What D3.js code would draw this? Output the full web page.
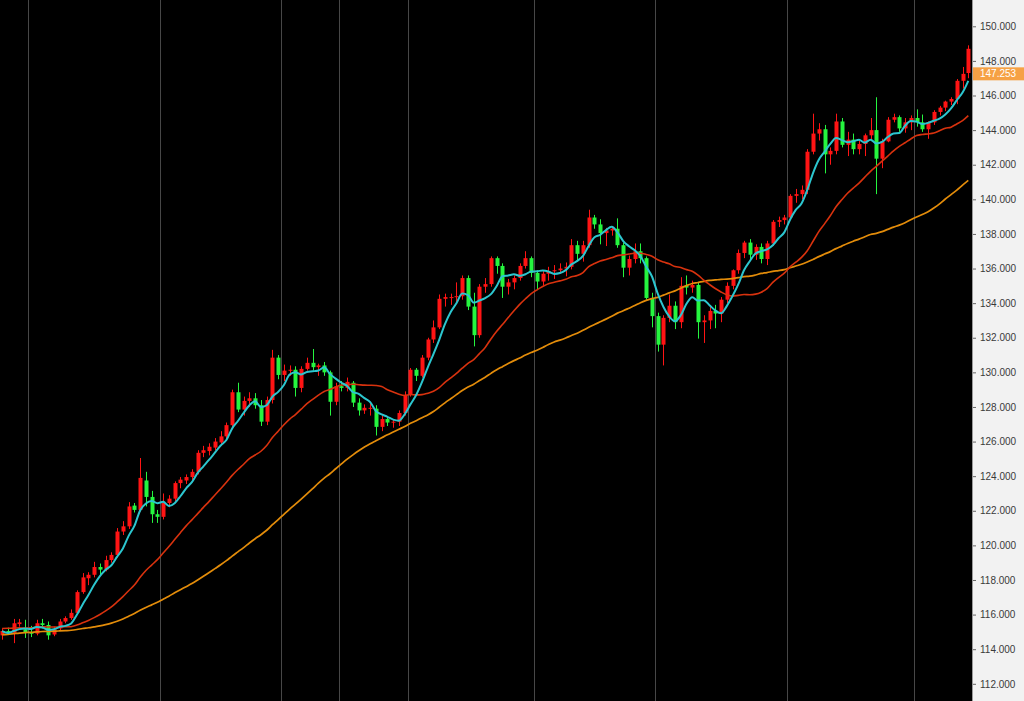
<!DOCTYPE html>
<html lang="en">
	<head>
		<meta charset="utf-8">
		<title>USD/JPY daily</title>
		<script type="text/javascript" src="https://cdn.jsdelivr.net/npm/d3@7/dist/d3.min.js"></script>
		<style type="text/css">
			html, body{
				margin: 0;
				padding: 0;
				overflow: hidden;
				background-color: #ffffff;
			}
			.axis text{
				font-family: "Liberation Sans", Arial, sans-serif;
				font-size: 10px;
				fill: #3a3a3a;
			}
			.axis line{
				stroke: #666666;
			}
		</style>
	</head>
	<body>
		<div id="chart"></div>
		<script type="text/javascript">

			// daily candles, 22 Feb -> 14 Oct (one per weekday)
			var opens = [
				114.80, 115.05, 114.95, 115.45, 115.15, 114.95, 114.90, 115.50, 115.40, 114.85,
				115.20, 115.60, 115.80, 116.10, 117.30, 118.10, 118.30, 118.75, 118.60, 119.15,
				119.45, 120.80, 121.10, 122.30, 122.05, 123.75, 122.80, 121.80, 121.65, 122.45,
				122.70, 123.60, 123.75, 123.95, 124.25, 125.35, 125.45, 125.65, 125.95, 126.30,
				126.95, 128.85, 127.85, 128.35, 128.50, 128.10, 127.15, 128.40, 130.85, 129.85,
				130.10, 130.15, 129.10, 130.20, 130.55, 130.30, 130.40, 130.00, 128.30, 129.20,
				129.10, 129.40, 128.25, 127.80, 127.90, 127.90, 126.85, 127.30, 127.10, 127.15,
				127.65, 128.70, 130.15, 129.80, 130.85, 131.90, 132.60, 134.25, 134.30, 134.35,
				134.40, 135.45, 133.80, 132.15, 134.95, 135.10, 136.60, 136.15, 134.95, 135.20,
				135.45, 136.15, 136.60, 135.75, 135.25, 135.70, 135.85, 135.90, 136.00, 136.10,
				137.35, 136.85, 137.35, 138.95, 138.55, 138.05, 138.20, 138.30, 137.35, 136.05,
				136.55, 137.00, 136.60, 134.30, 133.25, 131.60, 133.15, 133.85, 132.90, 135.00,
				134.90, 135.05, 132.90, 133.00, 133.55, 133.40, 134.20, 135.00, 135.90, 136.90,
				137.50, 136.80, 137.25, 136.55, 137.45, 138.70, 138.80, 138.95, 140.20, 140.30,
				140.55, 142.75, 143.80, 144.05, 142.60, 142.80, 144.50, 143.15, 143.45, 142.90,
				143.20, 143.70, 144.00, 142.35, 143.35, 144.60, 144.75, 144.10, 144.45, 144.70,
				144.45, 144.05, 144.45, 145.05, 145.30, 145.65, 145.80, 146.85, 147.30
			];
			var highs = [
				115.20, 115.25, 115.75, 115.75, 115.70, 115.35, 115.70, 115.75, 115.60, 115.30,
				115.75, 115.90, 116.30, 117.40, 118.40, 118.45, 119.05, 118.95, 119.40, 119.60,
				121.00, 121.40, 122.50, 122.45, 125.05, 124.25, 123.15, 122.05, 123.00, 122.90,
				123.70, 123.95, 124.10, 124.40, 125.50, 125.75, 125.90, 126.20, 126.60, 127.10,
				129.00, 129.40, 128.60, 128.85, 128.80, 128.40, 128.60, 131.30, 131.00, 130.45,
				130.40, 130.35, 130.35, 130.85, 131.35, 130.50, 130.60, 130.10, 129.40, 129.50,
				129.70, 129.50, 128.50, 128.15, 128.20, 128.10, 127.50, 127.45, 127.30, 127.80,
				128.90, 130.25, 130.25, 131.00, 132.00, 133.00, 134.50, 134.55, 134.55, 135.20,
				135.60, 135.60, 134.60, 135.10, 135.45, 136.70, 136.70, 136.30, 135.40, 135.60,
				136.30, 137.00, 136.70, 135.90, 135.85, 136.10, 136.20, 136.30, 136.35, 137.70,
				137.60, 137.60, 139.40, 139.10, 138.85, 138.35, 138.40, 138.90, 137.50, 136.75,
				137.45, 137.45, 136.70, 134.60, 133.45, 133.30, 134.50, 134.10, 135.50, 135.60,
				135.30, 135.20, 133.30, 133.80, 133.90, 134.35, 135.20, 135.95, 137.10, 137.60,
				137.70, 137.40, 137.45, 137.60, 138.80, 139.00, 139.10, 140.30, 140.60, 140.80,
				142.90, 144.95, 144.40, 144.30, 143.00, 144.95, 144.70, 143.90, 143.80, 143.40,
				143.80, 144.70, 145.90, 143.50, 144.75, 144.95, 144.85, 144.70, 144.85, 145.20,
				144.90, 144.50, 145.15, 145.40, 145.70, 145.90, 146.95, 147.65, 148.90
			];
			var lows = [
				114.55, 114.85, 114.35, 115.30, 114.65, 114.70, 114.80, 115.20, 114.55, 114.75,
				115.10, 115.50, 115.70, 116.00, 117.20, 117.70, 118.15, 118.30, 118.50, 119.00,
				119.30, 120.60, 120.95, 121.90, 121.95, 122.25, 121.30, 121.30, 121.50, 122.20,
				122.55, 123.30, 123.55, 123.70, 124.10, 125.10, 125.20, 125.50, 125.80, 126.10,
				126.80, 127.70, 127.50, 128.00, 127.90, 126.90, 126.95, 128.20, 129.60, 129.50,
				129.80, 128.60, 128.85, 130.10, 130.10, 129.80, 129.80, 127.50, 128.10, 128.90,
				128.90, 128.00, 127.50, 127.60, 127.50, 126.35, 126.60, 126.90, 126.80, 126.90,
				127.50, 128.60, 129.50, 129.70, 130.70, 131.70, 132.50, 133.80, 133.90, 134.00,
				134.20, 133.60, 131.50, 132.00, 134.60, 134.95, 135.70, 134.30, 134.50, 134.80,
				135.30, 136.00, 135.50, 134.75, 135.00, 135.30, 135.40, 135.70, 135.55, 135.95,
				136.40, 136.40, 137.20, 138.30, 137.40, 137.30, 137.90, 137.20, 135.50, 135.60,
				136.30, 136.30, 134.20, 132.60, 131.20, 130.40, 132.90, 132.50, 132.55, 134.50,
				134.60, 131.95, 131.70, 132.50, 132.55, 132.90, 134.00, 134.80, 135.70, 136.60,
				136.50, 136.50, 136.30, 136.20, 137.30, 138.40, 138.55, 138.80, 139.80, 140.00,
				140.30, 142.60, 143.40, 141.50, 142.00, 142.60, 143.00, 142.50, 142.60, 142.60,
				142.50, 143.40, 140.30, 141.80, 143.30, 144.45, 143.90, 143.85, 144.00, 144.20,
				143.90, 143.50, 144.30, 144.85, 145.10, 145.45, 145.50, 146.40, 147.00
			];
			var closes = [
				115.05, 114.95, 115.50, 115.55, 114.95, 114.90, 115.50, 115.40, 114.80, 115.15,
				115.60, 115.80, 116.10, 117.30, 118.15, 118.30, 118.75, 118.60, 119.15, 119.45,
				120.80, 121.10, 122.25, 122.05, 123.90, 122.80, 121.80, 121.65, 122.45, 122.70,
				123.60, 123.80, 123.95, 124.25, 125.35, 125.50, 125.70, 126.00, 126.30, 126.95,
				128.85, 127.85, 128.35, 128.50, 128.10, 127.15, 128.40, 130.85, 129.85, 130.10,
				130.15, 129.10, 130.20, 130.55, 130.30, 130.40, 130.00, 128.30, 129.20, 129.10,
				129.45, 128.25, 127.80, 127.95, 127.95, 126.85, 127.30, 127.10, 127.15, 127.65,
				128.70, 130.15, 129.80, 130.85, 131.90, 132.60, 134.25, 134.35, 134.35, 134.40,
				135.45, 133.80, 132.15, 134.95, 135.10, 136.60, 136.15, 134.95, 135.20, 135.45,
				136.15, 136.60, 135.75, 135.25, 135.70, 135.85, 135.90, 136.00, 136.10, 137.35,
				136.85, 137.35, 138.95, 138.55, 138.05, 138.20, 138.30, 137.35, 136.05, 136.55,
				137.00, 136.60, 134.30, 133.25, 131.60, 133.15, 133.85, 132.90, 135.00, 134.90,
				135.05, 132.90, 133.00, 133.55, 133.40, 134.20, 135.00, 135.90, 136.90, 137.50,
				136.80, 137.25, 136.55, 137.45, 138.70, 138.80, 138.95, 140.20, 140.30, 140.55,
				142.75, 143.80, 144.05, 142.60, 142.80, 144.50, 143.15, 143.45, 142.90, 143.20,
				143.70, 144.00, 142.35, 143.35, 144.60, 144.75, 144.10, 144.45, 144.70, 144.45,
				144.05, 144.45, 145.05, 145.30, 145.65, 145.80, 146.85, 147.25, 148.70
			];

			// closes before the first visible candle (only feed the moving averages)
			var earlierCloses = [
				114.05, 113.70, 113.70, 113.60, 114.10, 114.10, 114.40, 114.40, 114.80, 114.80,
				114.90, 115.05, 115.10, 115.30, 116.10, 116.10, 115.85, 115.55, 115.20, 115.30,
				114.65, 114.20, 114.20, 114.60, 114.60, 114.30, 114.10, 113.70, 113.95, 113.85,
				114.65, 115.35, 115.25, 115.10, 114.70, 114.60, 114.95, 115.20, 115.10, 115.55,
				115.55, 116.05, 115.40, 115.55, 115.60, 115.50, 114.95, 115.00, 114.75
			];

			// first candle of each month (Mar .. Oct), plus one extra divider
			var monthStarts = [5, 28, 49, 59, 71, 93, 114, 137, 159];

			var yTicks = [112, 114, 116, 118, 120, 122, 124, 126, 128, 130,
			              132, 134, 136, 138, 140, 142, 144, 146, 148, 150];

			var lastPrice = 147.253;

			var maPeriods = [50, 20, 5];
			var maColors = ["#e38c0a", "#d8320e", "#2cc6cf"];
			var maWidths = [1.7, 1.6, 2];

			var w = 1024, h = 701;
			var plotRight = 972;

			var svg = d3.select("#chart")
				.append("svg")
				.attr("width", w)
				.attr("height", h);

			var x = d3.scaleLinear()
				.domain([0, closes.length - 1])
				.range([2.12, 968.3]);

			var y = d3.scaleLinear()
				.domain([112, 150])
				.range([683.8, 26.3]);

			svg.append("defs").append("clipPath")
				.attr("id", "clip")
				.append("rect")
				.attr("x", 0)
				.attr("y", 0)
				.attr("width", plotRight)
				.attr("height", h);

			// black plot background
			svg.append("rect")
				.attr("x", 0)
				.attr("y", 0)
				.attr("width", plotRight)
				.attr("height", h)
				.attr("fill", "#000000");

			var plot = svg.append("g").attr("clip-path", "url(#clip)");

			// month dividers
			plot.selectAll("line.grid")
				.data(monthStarts)
				.enter()
				.append("line")
				.attr("class", "grid")
				.attr("x1", function(d){ return Math.round(x(d - 0.5)) + 0.5; })
				.attr("x2", function(d){ return Math.round(x(d - 0.5)) + 0.5; })
				.attr("y1", 0)
				.attr("y2", h)
				.attr("stroke", "#474747")
				.attr("stroke-width", 1);

			var candles = d3.range(closes.length).map(function(i){
				return {i: i, o: opens[i], h: highs[i], l: lows[i], c: closes[i]};
			});

			var upColor = "#ff1414", downColor = "#25f53f";
			function candleColor(d){ return d.c >= d.o ? upColor : downColor; }

			var cg = plot.append("g");

			cg.selectAll("line.wick")
				.data(candles)
				.enter()
				.append("line")
				.attr("class", "wick")
				.attr("x1", function(d){ return Math.round(x(d.i)) + 0.5; })
				.attr("x2", function(d){ return Math.round(x(d.i)) + 0.5; })
				.attr("y1", function(d){ return y(d.h); })
				.attr("y2", function(d){ return y(d.l); })
				.attr("stroke", candleColor)
				.attr("stroke-width", 1);

			cg.selectAll("rect.body")
				.data(candles)
				.enter()
				.append("rect")
				.attr("class", "body")
				.attr("x", function(d){ return Math.round(x(d.i)) - 1.5; })
				.attr("width", 4)
				.attr("y", function(d){ return y(Math.max(d.o, d.c)); })
				.attr("height", function(d){ return Math.max(1, Math.abs(y(d.o) - y(d.c))); })
				.attr("fill", candleColor);

			// simple moving averages on the closes
			var allCloses = earlierCloses.concat(closes);
			var offset = earlierCloses.length;

			function sma(period){
				return closes.map(function(c, i){
					var k = i + offset;
					return {i: i, v: d3.mean(allCloses.slice(k - period + 1, k + 1))};
				});
			}

			var maLine = d3.line()
				.x(function(d){ return x(d.i); })
				.y(function(d){ return y(d.v); })
				.curve(d3.curveMonotoneX);

			maPeriods.forEach(function(p, k){
				plot.append("path")
					.datum(sma(p))
					.attr("d", maLine)
					.attr("fill", "none")
					.attr("stroke", maColors[k])
					.attr("stroke-width", maWidths[k])
					.attr("stroke-linejoin", "round");
			});

			// price axis on the right
			svg.append("rect")
				.attr("x", plotRight)
				.attr("y", 0)
				.attr("width", w - plotRight)
				.attr("height", h)
				.attr("fill", "#f2f2f2");

			svg.append("line")
				.attr("x1", plotRight + 0.5)
				.attr("x2", plotRight + 0.5)
				.attr("y1", 0)
				.attr("y2", h)
				.attr("stroke", "#9a9a9a");

			var yAxis = d3.axisRight(y)
				.tickValues(yTicks)
				.tickSize(3)
				.tickPadding(4)
				.tickFormat(function(d){ return d.toFixed(3); });

			var ag = svg.append("g")
				.attr("class", "axis")
				.attr("transform", "translate(" + (plotRight + 1) + ",0)")
				.call(yAxis);
			ag.select(".domain").remove();

			// current price tag
			svg.append("rect")
				.attr("x", plotRight + 1)
				.attr("y", y(lastPrice) - 6.5)
				.attr("width", w - plotRight - 1)
				.attr("height", 13)
				.attr("fill", "#f6a145");

			svg.append("text")
				.attr("x", plotRight + 8)
				.attr("y", y(lastPrice))
				.attr("dy", "0.32em")
				.attr("font-family", "Liberation Sans, Arial, sans-serif")
				.attr("font-size", "10px")
				.attr("fill", "#ffffff")
				.text(lastPrice.toFixed(3));

		</script>
	</body>
</html>
